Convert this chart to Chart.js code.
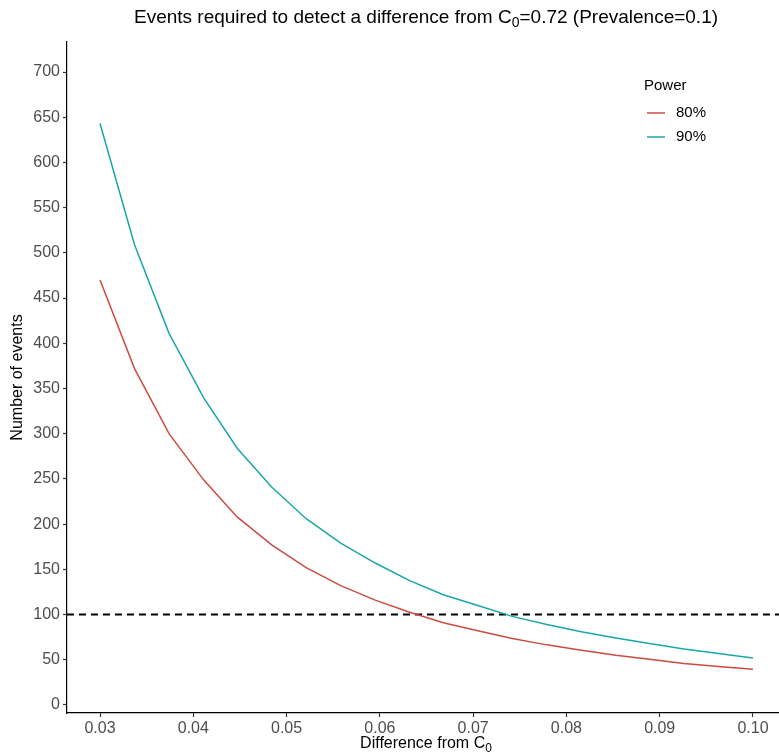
<!DOCTYPE html>
<html>
<head>
<meta charset="utf-8">
<script src="https://cdn.jsdelivr.net/npm/chart.js@4"></script>
<style>
  html, body { margin: 0; padding: 0; background: #fff; }
  #wrap { width: 779px; height: 752px; }
</style>
</head>
<body>
<div id="wrap"><canvas id="chart" width="779" height="752"></canvas></div>
<script>
// difference from C0 (x) and required events per power level
const diffs = [0.0300, 0.0337, 0.0374, 0.0411, 0.0447, 0.0484, 0.0521, 0.0558, 0.0595, 0.0632,
               0.0668, 0.0705, 0.0742, 0.0779, 0.0816, 0.0853, 0.0889, 0.0926, 0.0963, 0.1000];
const power80 = [470, 372, 300, 249, 208, 177, 152, 132, 116, 102.5,
                 91, 82, 73.5, 66.5, 60.5, 55, 50.5, 46, 42.5, 39.5];
const power90 = [643, 509, 411, 340, 284, 241, 206, 179, 157, 137.5,
                 122, 110, 98, 89, 81, 74, 68, 62, 57, 52];
const seriesNames = ['80%', '90%'];
const seriesColors = ['#CC4B41', '#1AA6A8'];
const refLine = 100;
const xTicks = [0.03, 0.04, 0.05, 0.06, 0.07, 0.08, 0.09, 0.10];
const yTicks = [0, 50, 100, 150, 200, 250, 300, 350, 400, 450, 500, 550, 600, 650, 700];

const X_MIN = 0.02646, X_MAX = 0.10279;
const FONT = '"Liberation Sans", Arial, Helvetica, sans-serif';

const toPts = arr => arr.map((v, i) => ({ x: diffs[i], y: v }));

// text with a subscript part, e.g. C0
function drawParts(ctx, parts, x, y, size, align) {
    const subSize = Math.round(size * 0.72);
    let total = 0;
    parts.forEach(p => {
        ctx.font = (p.sub ? subSize : size) + 'px ' + FONT;
        p.w = ctx.measureText(p.t).width;
        total += p.w;
    });
    let cx = align === 'center' ? x - total / 2 : x;
    ctx.textAlign = 'left';
    ctx.textBaseline = 'middle';
    parts.forEach(p => {
        ctx.font = (p.sub ? subSize : size) + 'px ' + FONT;
        ctx.fillText(p.t, cx, p.sub ? y + size * 0.28 : y);
        cx += p.w;
    });
}

const textPlugin = {
    id: 'textPlugin',
    afterDraw(chart) {
        const ctx = chart.ctx;
        const area = chart.chartArea;
        const mid = 426;
        ctx.save();
        ctx.fillStyle = '#000';
        // title
        drawParts(ctx, [
            { t: 'Events required to detect a difference from C' },
            { t: '0', sub: true },
            { t: '=0.72 (Prevalence=0.1)' }
        ], mid, 18, 19, 'center');
        // x title
        drawParts(ctx, [
            { t: 'Difference from C' },
            { t: '0', sub: true }
        ], mid, 744, 16, 'center');
        // y title
        ctx.save();
        ctx.translate(18, (area.top + area.bottom) / 2);
        ctx.rotate(-Math.PI / 2);
        ctx.font = '16px ' + FONT;
        ctx.textAlign = 'center';
        ctx.textBaseline = 'middle';
        ctx.fillText('Number of events', 0, 0);
        ctx.restore();
        // legend
        ctx.font = '15px ' + FONT;
        ctx.textAlign = 'left';
        ctx.textBaseline = 'middle';
        ctx.fillText('Power', 644, 86);
        seriesNames.forEach((name, i) => {
            const ly = 113 + i * 24;
            ctx.strokeStyle = seriesColors[i];
            ctx.lineWidth = 1.5;
            ctx.beginPath();
            ctx.moveTo(647, ly);
            ctx.lineTo(665, ly);
            ctx.stroke();
            ctx.fillStyle = '#000';
            ctx.fillText(name, 676, ly);
        });
        ctx.restore();
    }
};

new Chart(document.getElementById('chart'), {
    type: 'line',
    data: {
        datasets: [
            {
                label: seriesNames[0],
                data: toPts(power80),
                borderColor: seriesColors[0],
                borderWidth: 1.5,
                pointRadius: 0,
                tension: 0
            },
            {
                label: seriesNames[1],
                data: toPts(power90),
                borderColor: seriesColors[1],
                borderWidth: 1.5,
                pointRadius: 0,
                tension: 0
            },
            {
                label: 'ref',
                data: [{ x: X_MIN, y: refLine }, { x: X_MAX, y: refLine }],
                borderColor: '#000',
                borderWidth: 2,
                borderDash: [7, 5],
                pointRadius: 0
            }
        ]
    },
    options: {
        responsive: false,
        animation: false,
        layout: { padding: { top: 42, right: 0, left: 0, bottom: 0 } },
        plugins: {
            legend: { display: false },
            tooltip: { enabled: false }
        },
        scales: {
            x: {
                type: 'linear',
                min: X_MIN,
                max: X_MAX,
                afterBuildTicks: s => { s.ticks = xTicks.map(v => ({ value: v })); },
                afterFit: s => { s.height = 39; },
                border: { display: true, color: '#000', width: 1.2 },
                grid: { display: true, drawOnChartArea: false, tickLength: 4, tickColor: '#333', tickWidth: 1.2 },
                ticks: {
                    color: '#4D4D4D',
                    font: { family: FONT, size: 16 },
                    padding: 2,
                    maxRotation: 0,
                    callback: v => v.toFixed(2)
                }
            },
            y: {
                type: 'linear',
                min: -8.85,
                max: 733.2,
                afterBuildTicks: s => { s.ticks = yTicks.map(v => ({ value: v })); },
                afterFit: s => { s.width = 67; },
                border: { display: true, color: '#000', width: 1.2 },
                grid: { display: true, drawOnChartArea: false, tickLength: 4, tickColor: '#333', tickWidth: 1.2 },
                ticks: {
                    color: '#4D4D4D',
                    font: { family: FONT, size: 16 },
                    padding: 3,
                    callback: v => String(v)
                }
            }
        }
    },
    plugins: [textPlugin]
});
</script>
</body>
</html>
